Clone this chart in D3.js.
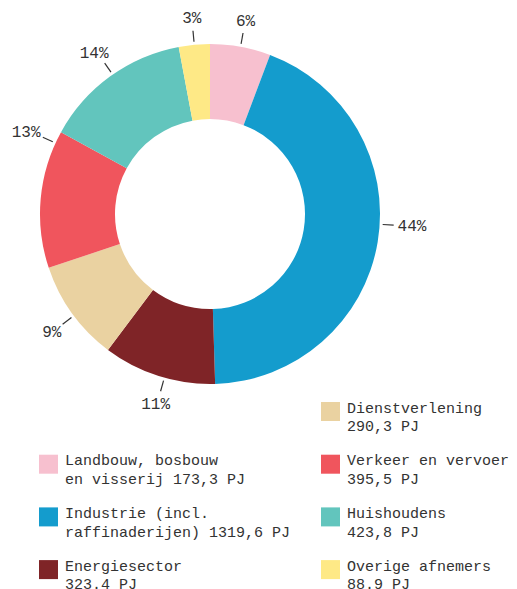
<!DOCTYPE html>
<html>
<head>
<meta charset="utf-8">
<script src="https://cdn.jsdelivr.net/npm/d3@7"></script>
<style>
  html, body { margin: 0; padding: 0; background: #fff; }
  svg { display: block; font-family: "Liberation Mono", "DejaVu Sans Mono", monospace; }
</style>
</head>
<body>
<svg id="chart" width="517" height="589"></svg>
<script>
// Final energy use by sector (PJ)
const categories = [
  "Landbouw, bosbouw\nen visserij",
  "Industrie (incl.\nraffinaderijen)",
  "Energiesector",
  "Dienstverlening",
  "Verkeer en vervoer",
  "Huishoudens",
  "Overige afnemers"
];
const valueText = ["173,3", "1319,6", "323.4", "290,3", "395,5", "423,8", "88.9"];
const values = valueText.map(s => +s.replace(",", "."));
const colors = ["#f7c0cf", "#149ccd", "#7f2427", "#ead2a1", "#f0555d", "#62c5bd", "#fee986"];

// legend placement: [column, row]
const legendCells = [[0, 1], [0, 2], [0, 3], [1, 0], [1, 1], [1, 2], [1, 3]];
// small angular shifts (degrees) applied to a few percentage labels
const labelShift = [0, -6, -2, -1, 19.5, 1, 0];

const svg = d3.select("#chart");
const cx = 210, cy = 214, rOuter = 170, rInner = 95;
const g = svg.append("g").attr("transform", `translate(${cx},${cy})`);

const pie = d3.pie().sort(null).value(d => d.value);
const data = categories.map((c, i) => ({ name: c, value: values[i], text: valueText[i], color: colors[i], i }));
const arcs = pie(data);
const total = d3.sum(values);

// whole percentages that add up to 100 (largest remainder)
const raw = values.map(v => v / total * 100);
const pcts = raw.map(Math.floor);
let left = 100 - d3.sum(pcts);
d3.range(raw.length)
  .sort((a, b) => (raw[b] - pcts[b]) - (raw[a] - pcts[a]))
  .slice(0, left)
  .forEach(k => pcts[k] += 1);

const arc = d3.arc().innerRadius(rInner).outerRadius(rOuter);
g.selectAll("path.slice")
  .data(arcs)
  .join("path")
  .attr("class", "slice")
  .attr("d", arc)
  .attr("fill", d => d.data.color);

// percentage labels with short leader ticks
const fs = 15, pfs = 16;
arcs.forEach(d => {
  const a = (d.startAngle + d.endAngle) / 2 + labelShift[d.data.i] * Math.PI / 180;
  const s = Math.sin(a), c = Math.cos(a);
  const r0 = 173, r1 = 184;
  g.append("line")
    .attr("x1", s * r0).attr("y1", -c * r0)
    .attr("x2", s * r1).attr("y2", -c * r1)
    .attr("stroke", "#333").attr("stroke-width", 1.2);
  const label = pcts[d.data.i] + "%";
  const w = label.length * pfs * 0.6;
  const x = s * r1 + s * (w / 2 + 4);
  const y = -c * r1 - c * 13 + 1.5;
  g.append("text")
    .attr("x", x).attr("y", y)
    .attr("text-anchor", "middle")
    .attr("dominant-baseline", "central")
    .attr("font-size", pfs)
    .attr("fill", "#333")
    .text(label);
});

// legend
const colX = [39, 321], rowY0 = 402, rowStep = 52.7, sw = 19;
const leg = svg.append("g");
data.forEach((d, i) => {
  const [col, row] = legendCells[i];
  const x = colX[col], y = rowY0 + row * rowStep;
  leg.append("rect").attr("x", x).attr("y", y).attr("width", sw).attr("height", sw).attr("fill", d.color);
  const lines = d.name.split("\n");
  if (lines.length === 1) lines.push(d.text + " PJ");
  else lines[1] = lines[1] + " " + d.text + " PJ";
  const t = leg.append("text").attr("font-size", fs).attr("fill", "#333");
  lines.forEach((ln, k) => {
    t.append("tspan").attr("x", x + 26).attr("y", y + 10.5 + k * 18.7).text(ln);
  });
});
</script>
</body>
</html>
